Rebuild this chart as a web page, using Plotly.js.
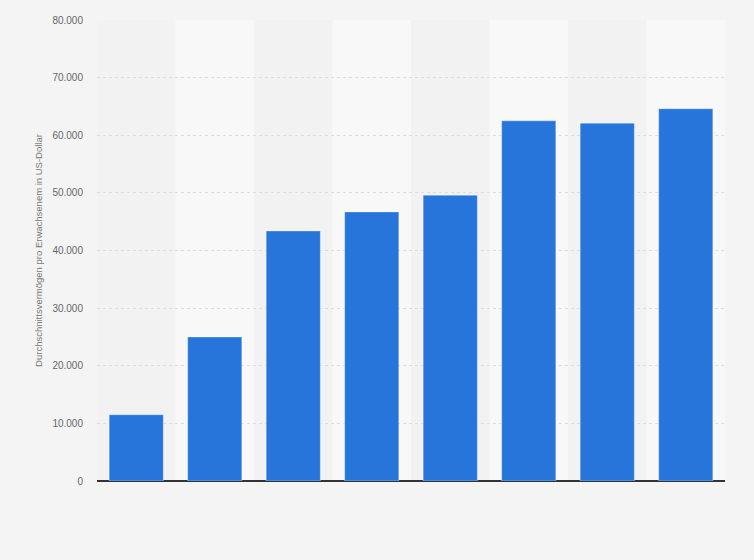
<!DOCTYPE html>
<html>
<head>
<meta charset="utf-8">
<script src="https://cdn.plot.ly/plotly-3.0.1.min.js"></script>
<style>
html,body{margin:0;padding:0;background:#f4f4f4;}
#chart{width:754px;height:560px;}
</style>
</head>
<body>
<div id="chart"></div>
<script>
var categories = ['1', '2', '3', '4', '5', '6', '7', '8'];
var values = [11500, 25000, 43400, 46700, 49600, 62500, 62100, 64600];
var tickValues = [0, 10000, 20000, 30000, 40000, 50000, 60000, 70000, 80000];

var shapes = [];
for (var i = 0; i < categories.length; i++) {
  if (i % 2 === 1) {
    shapes.push({
      type: 'rect', xref: 'x', yref: 'paper',
      x0: i - 0.5, x1: i + 0.5, y0: 0, y1: 1,
      fillcolor: '#f8f8f8', line: {width: 0}, layer: 'below'
    });
  }
}

var trace = {
  type: 'bar',
  x: categories,
  y: values,
  marker: {color: '#2775da', line: {color: 'rgba(255,255,255,0.35)', width: 1}},
  hoverinfo: 'y'
};

var layout = {
  width: 754, height: 560,
  paper_bgcolor: '#f4f4f4',
  plot_bgcolor: '#f2f2f2',
  margin: {l: 97, r: 29, t: 20, b: 79},
  bargap: 0.31,
  separators: ',.',
  showlegend: false,
  shapes: shapes,
  xaxis: {
    type: 'category',
    showticklabels: false,
    showgrid: false,
    zeroline: false,
    showline: false,
    ticks: '',
    range: [-0.5, 7.5]
  },
  yaxis: {
    range: [0, 80000],
    tickvals: tickValues,
    tickformat: ',d',
    tickfont: {family: 'Arial, Liberation Sans, sans-serif', size: 10, color: '#666666'},
    ticks: '',
    ticklen: 0,
    ticklabelstandoff: 13,
    showgrid: true,
    gridcolor: '#dddddd',
    griddash: 'dot',
    gridwidth: 1,
    zeroline: true,
    zerolinecolor: '#333333',
    zerolinewidth: 1.5,
    showline: false,
    title: {
      text: 'Durchschnittsvermögen pro Erwachsenem in US-Dollar',
      font: {family: 'Arial, Liberation Sans, sans-serif', size: 9.5, color: '#777777'},
      standoff: 8
    }
  }
};

Plotly.newPlot('chart', [trace], layout, {displayModeBar: false, staticPlot: true});
</script>
</body>
</html>
